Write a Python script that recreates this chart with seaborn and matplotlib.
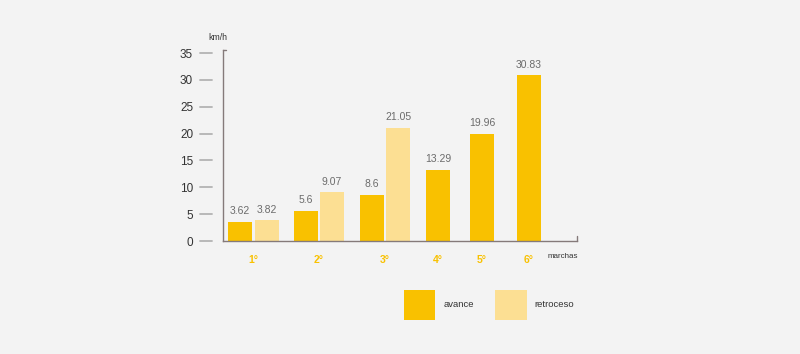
import matplotlib
matplotlib.use("Agg")
import matplotlib.pyplot as plt
import numpy as np
import pandas as pd
import seaborn as sns

# data
marchas = ["1°", "2°", "3°", "4°", "5°", "6°"]
avance = [3.62, 5.6, 8.6, 13.29, 19.96, 30.83]
marchas_retro = ["1°", "2°", "3°"]
retroceso = [3.82, 9.07, 21.05]

# layout (bar slot centres along the x axis, in axis pixels)
avance_x = [17, 83, 149, 215, 259, 306]
retro_x = [44, 109, 175]

BG = "#f3f3f3"
GOLD = "#f9c100"
LIGHT = "#fcdf93"
AXIS = "#857a7a"

df = pd.concat([
    pd.DataFrame({"marcha": marchas, "kmh": avance, "pos": avance_x, "sentido": "avance"}),
    pd.DataFrame({"marcha": marchas_retro, "kmh": retroceso, "pos": retro_x, "sentido": "retroceso"}),
], ignore_index=True)

sns.set_theme(style="white", rc={"figure.facecolor": BG, "axes.facecolor": BG})
plt.rcParams["font.family"] = ["Liberation Sans", "DejaVu Sans"]

fig = plt.figure(figsize=(8, 3.54), dpi=100)
ax = fig.add_axes([223 / 800, 1 - 241 / 354, 354 / 800, 191 / 354])

sns.barplot(data=df, x="pos", y="kmh", hue="sentido", hue_order=["avance", "retroceso"],
            palette=[GOLD, LIGHT], native_scale=True, dodge=False, width=24.5 / 26,
            saturation=1, linewidth=0, errorbar=None, ax=ax)

ax.set_xlim(0, 354)
ax.set_ylim(0, 35.56)
ax.set_xlabel("")
ax.set_ylabel("")

# gear labels centred under each group
centres = []
for i, m in enumerate(marchas):
    xs = [avance_x[i]] + [retro_x[j] for j, r in enumerate(marchas_retro) if r == m]
    centres.append(np.mean(xs))
ax.set_xticks(centres)
ax.set_xticklabels(marchas)
ax.tick_params(axis="x", length=0, pad=10, labelsize=7.5, labelcolor=GOLD)
for t in ax.get_xticklabels():
    t.set_fontweight("bold")

yt = list(range(0, 36, 5))
ax.set_yticks(yt)
ax.tick_params(axis="y", length=0, pad=21.5, labelsize=8.5, labelcolor="#333333")
for v in yt:
    ax.plot([-0.065, -0.031], [v, v], transform=ax.get_yaxis_transform(),
            color="#b3b3b3", lw=1.3, clip_on=False)

for s in ["top", "right"]:
    ax.spines[s].set_visible(False)
for s in ["left", "bottom"]:
    ax.spines[s].set_color(AXIS)
    ax.spines[s].set_linewidth(1)
ax.plot([0, 0.008], [1, 1], transform=ax.transAxes, color=AXIS, lw=1, clip_on=False)
ax.plot([1, 1], [0, 0.026], transform=ax.transAxes, color=AXIS, lw=1, clip_on=False)

for c in ax.containers:
    ax.bar_label(c, fmt="{:g}", padding=4, color="#6b6b6b", fontsize=7.5)

fig.text(208 / 800, 1 - 37 / 354, "km/h", fontsize=6.3, color="#333333", va="center")
fig.text(548 / 800, 1 - 257 / 354, "marchas", fontsize=5.8, color="#333333", va="center")

old = ax.get_legend()
handles = old.legend_handles
labels = [t.get_text() for t in old.get_texts()]
old.remove()
fig.legend(handles, labels, loc="upper left", bbox_to_anchor=(404 / 800, 1 - 290 / 354),
           ncol=2, frameon=False, fontsize=6.8, labelcolor="#333333",
           handlelength=3.3, handleheight=4.5, handletextpad=0.85, columnspacing=2.3,
           borderpad=0, borderaxespad=0)

fig.savefig("out.png", dpi=100, facecolor=BG)
